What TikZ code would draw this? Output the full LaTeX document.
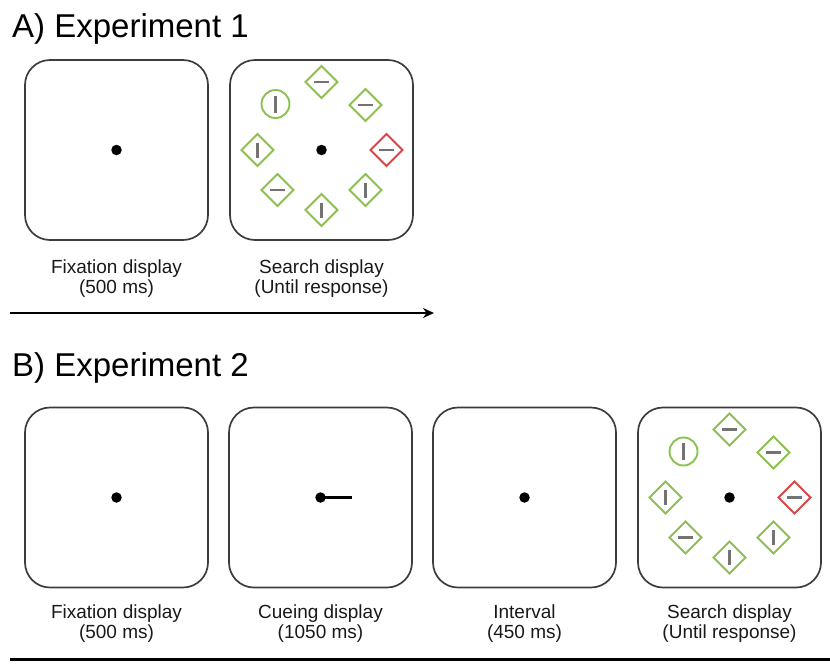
\documentclass[tikz,border=0pt]{standalone}
\usepackage{fontspec}
\setmainfont{Liberation Sans}
\usetikzlibrary{arrows.meta}

\definecolor{framegray}{RGB}{60,60,60}
\definecolor{itemgreen}{RGB}{140,192,80}
\definecolor{itemred}{RGB}{214,72,72}
\definecolor{bargray}{RGB}{115,115,115}
\definecolor{textdark}{RGB}{25,25,25}

\tikzset{
  screen/.style={draw=framegray, line width=1.7pt, rounded corners=25pt,
    minimum width=183pt, minimum height=180pt, inner sep=0pt},
  fixdot/.style={circle, fill=black, inner sep=0pt, minimum size=10.5pt},
  outline/.style={draw=itemgreen, line width=1.9pt, line join=miter},
  bar/.style={draw=bargray, line width=2.3pt},
  caption/.style={font=\fontsize{19}{20.5}\selectfont, text=textdark,
    align=center, anchor=base, inner sep=0pt},
  heading/.style={font=\fontsize{33}{36}\selectfont, text=black,
    anchor=base west, inner sep=0pt},
  timeline/.style={draw=black, line width=2.4pt},
  hdia/.pic={\draw[outline] (0,-16) -- (16,0) -- (0,16) -- (-16,0) -- cycle;
             \draw[bar] (-7.5,0) -- (7.5,0);},
  vdia/.pic={\draw[outline] (0,-16) -- (16,0) -- (0,16) -- (-16,0) -- cycle;
             \draw[bar] (0,-7.5) -- (0,7.5);},
  vcirc/.pic={\draw[outline] (0,0) circle (14);
              \draw[bar] (0,-8.5) -- (0,8.5);},
  target/.style={outline/.append style={draw=itemred}},
}

% eight search items around a fixation point
\newcommand{\searchring}[1]{%
  \begin{scope}[shift={(#1)}]
    \pic at (0,-68) {hdia};
    \pic at (44,-45) {hdia};
    \pic[target] at (65,0) {hdia};
    \pic at (44,40) {vdia};
    \pic at (0,60) {vdia};
    \pic at (-44,40) {hdia};
    \pic at (-64,0) {vdia};
    \pic at (-46,-46) {vcirc};
  \end{scope}}

\begin{document}
\begin{tikzpicture}[x=1pt, y=-1pt]
  \useasboundingbox (0,0) rectangle (830,665);

  % ---- Experiment 1 ----
  \node[heading] (headA) at (12,37) {A) Experiment 1};

  \node[screen] (a1) at (116.5,150) {};
  \node[screen] (a2) at (321.5,150) {};
  \node[fixdot] (a1dot) at (a1.center) {};
  \node[fixdot] (a2dot) at (a2.center) {};
  \searchring{a2dot}

  % captions: the anchor sits on the baseline of the second line
  \node[caption] (a1txt) at (116.5,293.5) {Fixation display\\(500 ms)};
  \node[caption] (a2txt) at (321.5,293.5) {Search display\\(Until response)};

  \coordinate (tA0) at (10,313);
  \coordinate (tA1) at (434,313);
  \draw[timeline, -{Stealth[length=11pt, width=10pt]}] (tA0) -- (tA1);

  % ---- Experiment 2 ----
  \node[heading] (headB) at (12,376) {B) Experiment 2};

  \node[screen] (b1) at (116.5,497.5) {};
  \node[screen] (b2) at (320.5,497.5) {};
  \node[screen] (b3) at (524.5,497.5) {};
  \node[screen] (b4) at (729.5,497.5) {};
  \node[fixdot] (b1dot) at (b1.center) {};
  \node[fixdot] (b2dot) at (b2.center) {};
  \node[fixdot] (b3dot) at (b3.center) {};
  \node[fixdot] (b4dot) at (b4.center) {};
  \coordinate (cueend) at ([xshift=31pt]b2dot.center);
  \draw[line width=2.7pt] (b2dot.center) -- (cueend);
  \searchring{b4dot}

  \node[caption] (b1txt) at (116.5,638.5) {Fixation display\\(500 ms)};
  \node[caption] (b2txt) at (320.5,638.5) {Cueing display\\(1050 ms)};
  \node[caption] (b3txt) at (524.5,638.5) {Interval\\(450 ms)};
  \node[caption] (b4txt) at (729.5,638.5) {Search display\\(Until response)};

  \coordinate (tB0) at (10,659);
  \coordinate (tB1) at (830,659);
  \draw[timeline, line width=3pt] (tB0) -- (tB1);
\end{tikzpicture}
\end{document}
